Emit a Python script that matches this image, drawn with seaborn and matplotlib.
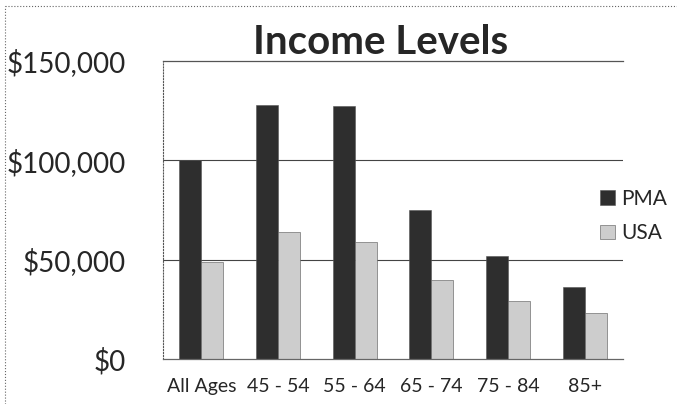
import pandas as pd
import matplotlib
matplotlib.use("Agg")
import matplotlib.pyplot as plt
from matplotlib.lines import Line2D
from matplotlib.patches import Patch
import seaborn as sns

# chart values
ages = ["All Ages", "45 - 54", "55 - 64", "65 - 74", "75 - 84", "85+"]
pma = [100000, 128000, 127500, 75000, 52000, 36000]
usa = [49000, 64000, 59000, 40000, 29000, 23000]
yticks = [0, 50000, 100000, 150000]
ytick_labels = ["$0", "$50,000", "$100,000", "$150,000"]

df = pd.DataFrame({
    "age": ages * 2,
    "income": pma + usa,
    "area": ["PMA"] * len(ages) + ["USA"] * len(ages),
})

sns.set_style("white")
plt.rcParams["font.family"] = ["Lato", "DejaVu Sans"]

fig = plt.figure(figsize=(6.77, 4.04), dpi=100)
ax = fig.add_axes([0.2408, 0.1114, 0.6794, 0.7376])

colors = {"PMA": "#2e2e2e", "USA": "#cdcdcd"}
sns.barplot(data=df, x="age", y="income", hue="area", palette=colors,
            width=0.575, saturation=1, legend=False, ax=ax,
            edgecolor="#555555", linewidth=0.4)

ax.set_ylim(0, 150000)
ax.set_xlim(-0.5, len(ages) - 0.5)
ax.set_yticks(yticks)
ax.set_yticklabels(ytick_labels, fontsize=20)
ax.tick_params(axis="y", length=0, pad=27)
ax.tick_params(axis="x", length=0, pad=14, labelsize=14)
ax.set_xlabel("")
ax.set_ylabel("")

# gridlines behind bars
for v in [50000, 100000]:
    ax.axhline(v, color="#444444", linewidth=0.8, zorder=0)
ax.set_axisbelow(True)

# frame: dotted left, solid top/bottom, no right
ax.spines["right"].set_visible(False)
ax.spines["left"].set_linestyle(":")
ax.spines["left"].set_color("#555555")
ax.spines["left"].set_linewidth(0.8)
ax.spines["top"].set_color("#555555")
ax.spines["top"].set_linewidth(0.9)
ax.spines["bottom"].set_color("#666666")
ax.spines["bottom"].set_linewidth(0.9)

# title sitting on the top frame line
fig.text(0.562, 0.866, "Income Levels", ha="center", va="baseline",
         fontsize=29, fontweight="bold")

# legend with square markers
handles = [Patch(facecolor=colors[k], edgecolor="#555555", linewidth=0.4) for k in ["PMA", "USA"]]
fig.legend(handles, ["PMA", "USA"], loc="center left",
           bbox_to_anchor=(0.887, 0.465), frameon=False, fontsize=15,
           handlelength=0.7, handleheight=0.7, handletextpad=0.3,
           labelspacing=0.7, borderpad=0, borderaxespad=0)

# dotted outer chart border (left and top edges)
fig.add_artist(Line2D([0.0074, 0.0074], [0, 0.985], transform=fig.transFigure,
                      color="#666666", linestyle=":", linewidth=0.8))
fig.add_artist(Line2D([0.0074, 1], [0.985, 0.985], transform=fig.transFigure,
                      color="#666666", linestyle=":", linewidth=0.8))

fig.savefig("out.png", dpi=100)
